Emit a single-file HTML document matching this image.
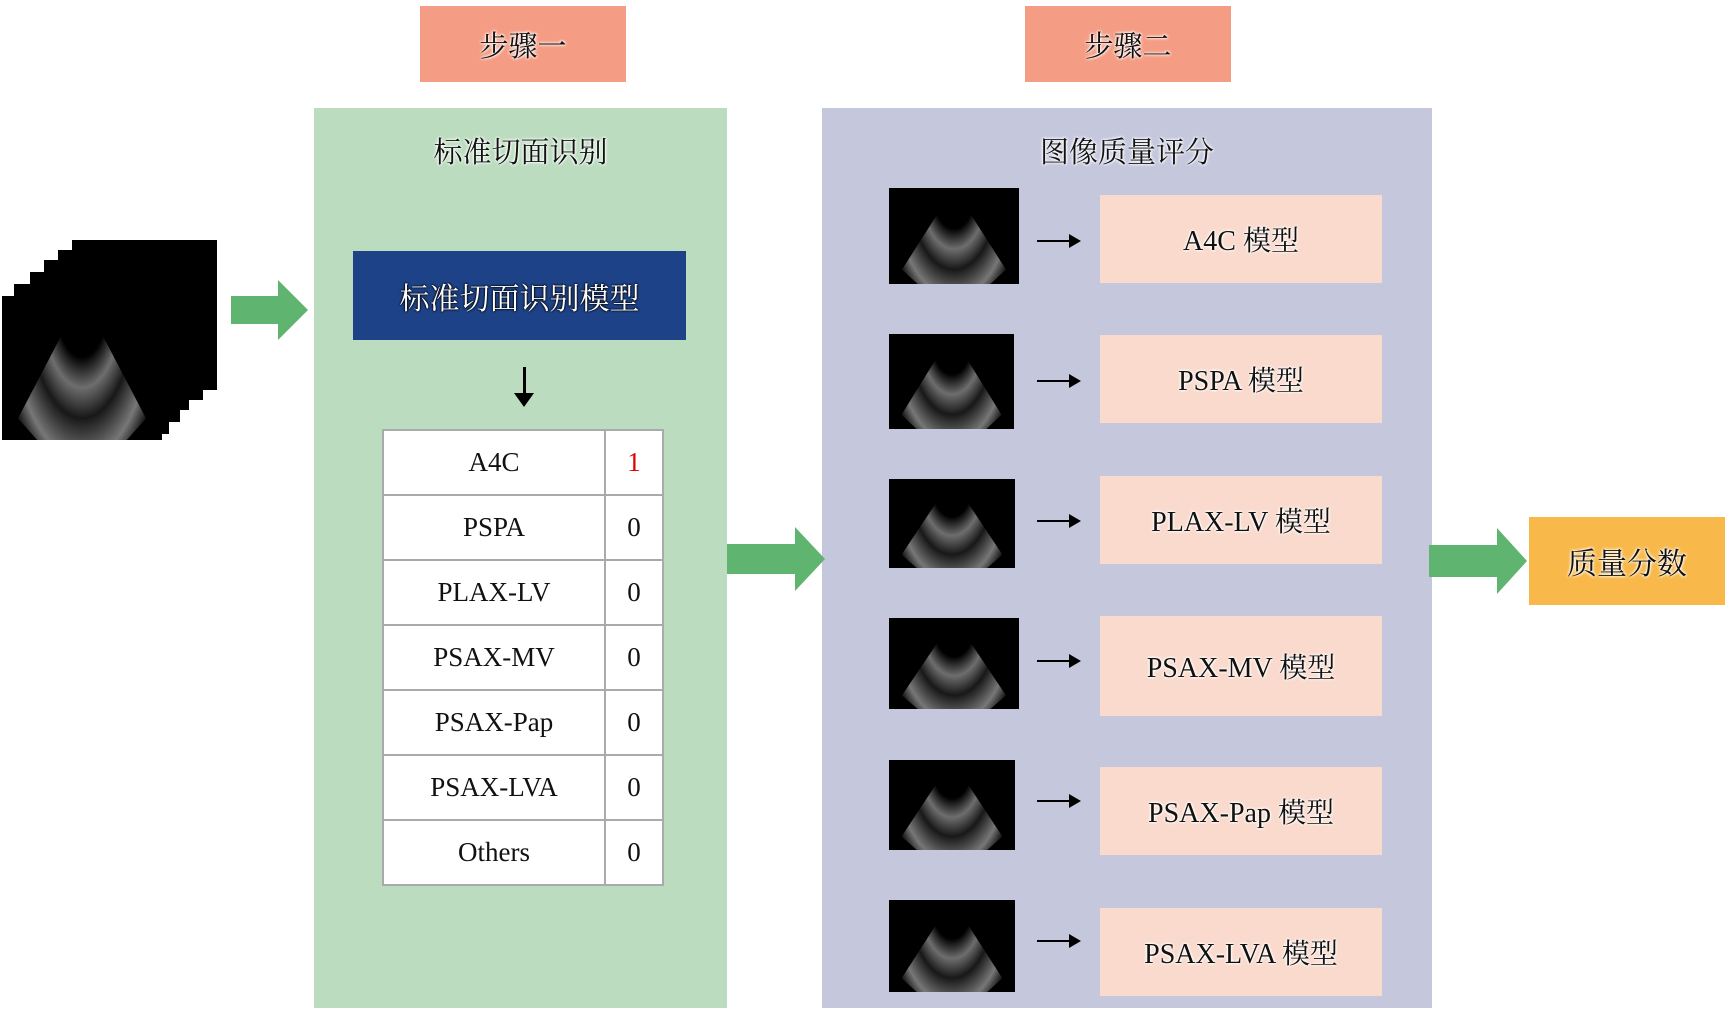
<!DOCTYPE html>
<html><head><meta charset="utf-8"><style>
body{margin:0;width:1729px;height:1016px;background:#fff;position:relative;overflow:hidden;font-family:"Liberation Serif","Noto Serif CJK SC",serif;}
.a{position:absolute;}
.t{display:flex;align-items:center;justify-content:center;color:#111;text-shadow:0 0 3px #fff,0 0 3px #fff,0 0 2px #fff;}
.us{position:absolute;background:#000;overflow:hidden;}
.us::before{content:"";position:absolute;left:10%;top:0;width:80%;height:100%;background:radial-gradient(ellipse at 50% 0%,rgba(0,0,0,0) 0,rgba(0,0,0,0) 30%,rgba(200,200,200,.55) 45%,rgba(40,40,40,.6) 60%,rgba(170,170,170,.7) 80%,rgba(0,0,0,0) 95%);clip-path:polygon(50% 0,100% 85%,85% 100%,15% 100%,0 85%);}
.m{position:absolute;left:1100px;width:282px;height:88px;background:#f9dacd;font-size:28px;}
.sa{position:absolute;left:1037px;width:42px;height:2px;background:#000;}
.sa::after{content:"";position:absolute;right:-2px;top:-6px;border-left:12px solid #000;border-top:7px solid transparent;border-bottom:7px solid transparent;}
table{border-collapse:collapse;}
td{border:2px solid #aaa;background:#fff;height:63px;text-align:center;font-size:27px;color:#111;padding:0;}
</style></head><body>
<div class="a t" style="left:420px;top:6px;width:206px;height:76px;background:#f59d84;font-size:29px;">步骤一</div>
<div class="a t" style="left:1025px;top:6px;width:206px;height:76px;background:#f59d84;font-size:29px;">步骤二</div>
<div class="a" style="left:314px;top:108px;width:413px;height:900px;background:#bcdcbf;"></div>
<div class="a" style="left:822px;top:108px;width:610px;height:900px;background:#c5c8dd;"></div>
<div class="a t" style="left:314px;top:130px;width:413px;height:40px;font-size:29px;">标准切面识别</div>
<div class="a t" style="left:822px;top:130px;width:610px;height:40px;font-size:29px;">图像质量评分</div>
<div class="a t" style="left:353px;top:251px;width:333px;height:89px;background:#1e4287;font-size:30px;color:#fff;text-shadow:0 0 2px #000,0 0 2px #000,0 0 1px #000;">标准切面识别模型</div>
<div class="a" style="left:523px;top:367px;width:3px;height:30px;background:#000;"></div>
<div class="a" style="left:514px;top:393px;border-top:14px solid #000;border-left:10px solid transparent;border-right:10px solid transparent;"></div>
<table class="a" style="left:382px;top:429px;width:282px;">
<tr><td style="width:220px">A4C</td><td style="color:#d00">1</td></tr>
<tr><td>PSPA</td><td>0</td></tr>
<tr><td>PLAX-LV</td><td>0</td></tr>
<tr><td>PSAX-MV</td><td>0</td></tr>
<tr><td>PSAX-Pap</td><td>0</td></tr>
<tr><td>PSAX-LVA</td><td>0</td></tr>
<tr><td>Others</td><td>0</td></tr>
</table>
<div class="us" style="left:72px;top:240px;width:145px;height:150px;"></div>
<div class="us" style="left:58px;top:250px;width:145px;height:150px;"></div>
<div class="us" style="left:44px;top:260px;width:145px;height:150px;"></div>
<div class="us" style="left:30px;top:272px;width:150px;height:150px;"></div>
<div class="us" style="left:14px;top:284px;width:155px;height:150px;"></div>
<div class="us" style="left:2px;top:296px;width:160px;height:144px;"></div>
<svg class="a" style="left:0;top:0" width="1729" height="1016">
<polygon points="231,296 278,296 278,280 308,310 278,340 278,324 231,324" fill="#5fb46f"/>
<polygon points="727,544 795,544 795,527 825,559 795,591 795,574 727,574" fill="#5fb46f"/>
<polygon points="1429,545 1497,545 1497,528 1527,561 1497,594 1497,577 1429,577" fill="#5fb46f"/>
</svg>
<div class="a t" style="left:1529px;top:517px;width:196px;height:88px;background:#f8b94a;font-size:30px;">质量分数</div>
<div class="us" style="left:889px;top:188px;width:130px;height:96px;"></div>
<div class="us" style="left:889px;top:334px;width:125px;height:95px;"></div>
<div class="us" style="left:889px;top:479px;width:126px;height:89px;"></div>
<div class="us" style="left:889px;top:618px;width:130px;height:91px;"></div>
<div class="us" style="left:889px;top:760px;width:126px;height:90px;"></div>
<div class="us" style="left:889px;top:900px;width:126px;height:92px;"></div>
<div class="sa" style="top:240px"></div>
<div class="sa" style="top:380px"></div>
<div class="sa" style="top:520px"></div>
<div class="sa" style="top:660px"></div>
<div class="sa" style="top:800px"></div>
<div class="sa" style="top:940px"></div>
<div class="m t" style="top:195px">A4C 模型</div>
<div class="m t" style="top:335px">PSPA 模型</div>
<div class="m t" style="top:476px">PLAX-LV 模型</div>
<div class="m t" style="top:616px;height:100px">PSAX-MV 模型</div>
<div class="m t" style="top:767px">PSAX-Pap 模型</div>
<div class="m t" style="top:908px">PSAX-LVA 模型</div>
</body></html>
